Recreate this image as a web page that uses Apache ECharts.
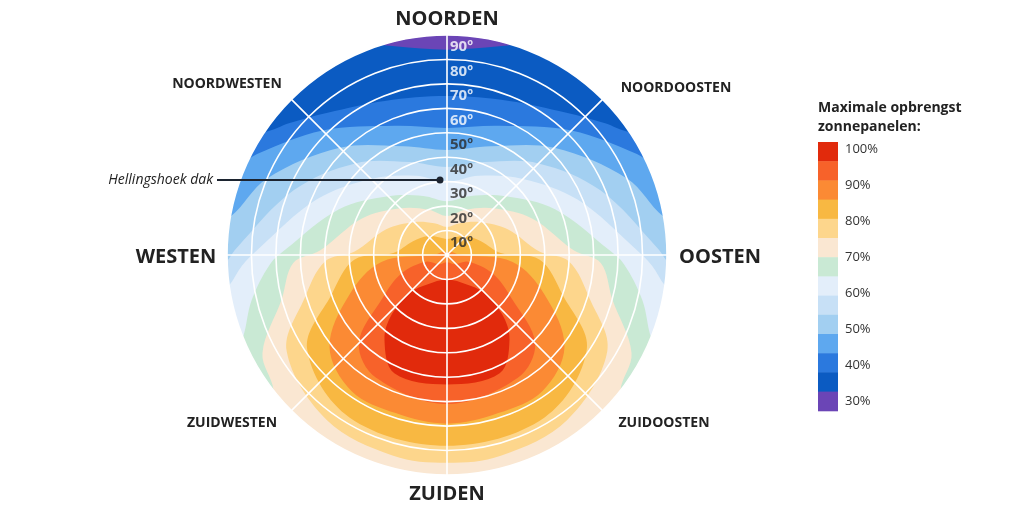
<!DOCTYPE html>
<html><head><meta charset="utf-8">
<script src="https://cdn.jsdelivr.net/npm/echarts@6/dist/echarts.min.js"></script>
<style>html,body{margin:0;padding:0;background:#fff}#c{width:1024px;height:512px}</style>
</head><body><div id="c"></div>
<script>
// Yield contour boundaries, east half: [tilt (deg), compass angle (deg, 0=N, 90=E, 180=S)]
const b35 = [[84,0],[88,14],[92,19],[105,24],[105,60],[105,90],[105,120],[105,150],[105,180]];
const b40 = [[65,0],[68,22],[76,40],[84,50],[90,56],[105,62],[105,90],[105,120],[105,150],[105,180]];
const b45 = [[52,0],[57,22],[72,45],[88,62],[92,66],[105,72],[105,100],[105,130],[105,155],[105,180]];
const b50 = [[43,0],[48,22],[62,45],[80,67],[90,80],[105,86],[105,115],[105,145],[105,180]];
const b55 = [[36,0],[41,22],[53,45],[68,67],[86,88],[92,93],[105,98],[105,125],[105,150],[105,180]];
const b60 = [[30,0],[35,22],[44,45],[58,67],[77,88],[84,93],[90,98],[105,105],[105,130],[105,155],[105,180]];
const b65 = [[22,0],[26,22],[34,45],[48,67],[66,88],[72.5,93],[82,103],[90,112],[105,120],[105,150],[105,180]];
const b70 = [[16,0],[20,22],[27,45],[38,67],[52,88],[63,93],[70,105],[85.5,118],[90,128],[105,137],[105,160],[105,180]];
const b75 = [[11.5,0],[14,22],[19,45],[27,67],[38,88],[50,93],[61,107],[76.5,121],[83.5,144],[85,165],[85,180]];
const b80 = [[6.5,0],[8,25],[11,45],[15,68],[22,88],[38,93],[50,109],[69,124],[77.5,149],[78,180]];
const b85 = [[1,0],[1.5,30],[2.5,60],[5,88],[27,96],[43,112],[61,128],[68,145],[68,162],[69,180]];
const b90 = [[3,180],[5,140],[9,108],[20,112],[32,124],[51,135],[58,150],[61,180]];
const b95 = [[10,180],[14.5,146],[21,136],[33,137],[43,143.5],[53,156],[53,180]];
const contours = [b35,b40,b45,b50,b55,b60,b65,b70,b75,b80,b85,b90,b95];

// Legend / band colours (100% ... 30%)
const bandColors = ['#e12a0c','#f7622a','#fb8a34','#f8b842','#fdd68c','#fae7d2','#c9e9d4',
                    '#e3eefa','#c7e0f6','#a2cff1','#5ea8ef','#2b79de','#0b5bc2','#6b45b6'];
const legendLabels = ['100%','90%','80%','70%','60%','50%','40%','30%'];
const tiltTicks = [10,20,30,40,50,60,70,80,90];
const directions = ['NOORDEN','NOORDOOSTEN','OOSTEN','ZUIDOOSTEN','ZUIDEN','ZUIDWESTEN','WESTEN','NOORDWESTEN'];

const levelColors = bandColors.slice(0,13).reverse(); // for b35..b95
const FONT = '"Open Sans", "Noto Sans", sans-serif';

function fullPoly(half){
  const mir = half.slice(1,-1).reverse().map(p=>[p[0], 360-p[1]]);
  return half.concat(mir);
}

const chart = echarts.init(document.getElementById('c'));
const items = [{kind:'bg'}].concat(contours.map((c,i)=>({kind:'lvl',i}))).concat([{kind:'mask'}]);

const option = {
  animation:false,
  backgroundColor:'#fff',
  polar:{center:[447,255], radius:220},
  angleAxis:{type:'value',min:0,max:360,interval:45,startAngle:90,clockwise:true,z:10,
    axisLine:{show:false},axisTick:{show:false},axisLabel:{show:false},
    splitLine:{show:true,lineStyle:{color:'#ffffff',width:1.6}}},
  radiusAxis:{type:'value',min:0,max:90,interval:10,z:10,
    axisLine:{show:false},axisTick:{show:false},axisLabel:{show:false},
    splitLine:{show:true,lineStyle:{color:'#ffffff',width:1.6}}},
  series:[
    {type:'custom', coordinateSystem:'polar', z:2, clip:false, silent:true,
     data: items.map((_,i)=>[0,0]),
     renderItem:function(params, api){
       const it = items[params.dataIndex];
       const c0 = api.coord([0,0]);
       const ce = api.coord([90,0]);
       const R = Math.hypot(ce[0]-c0[0], ce[1]-c0[1]);
       if(it.kind==='bg'){
         return {type:'circle', shape:{cx:c0[0],cy:c0[1],r:R}, style:{fill:bandColors[13]}};
       }
       if(it.kind==='mask'){
         return {type:'circle', shape:{cx:c0[0],cy:c0[1],r:R+45}, style:{fill:null,stroke:'#ffffff',lineWidth:90}};
       }
       const pts = fullPoly(contours[it.i]).map(p=>api.coord([p[0],p[1]]));
       return {type:'polygon', shape:{points:pts, smooth:0.35}, style:{fill:levelColors[it.i]}};
     }},
    {type:'scatter', coordinateSystem:'polar', z:20, symbolSize:0, silent:true,
     data: tiltTicks.map(t=>[t-5,0]),
     label:{show:true, position:'right', distance:3,
       fontFamily:FONT, fontWeight:'bold', fontSize:15,
       formatter:function(p){ return tiltTicks[p.dataIndex]+'º'; },
       color:'#2b2b2b',
       rich:{}},
     labelLayout:null}
  ],
  graphic:[]
};
// white labels for upper tilt rows
option.series[1].data = tiltTicks.map(t=>({value:[t-5,0], label:{color: t>=60 ? '#ffffff' : '#2b2b2b'}}));

const g = [];
const dirPos = [[447,19,20],[676,88,14],[720,257,20],[664,423,14],[447,494,20],[232,423,14],[176,257,20],[227,84,14]];
directions.forEach((d,i)=>{
  g.push({type:'text', x:dirPos[i][0], y:dirPos[i][1], z:30,
    style:{text:d, fill:'#222', font:'bold '+dirPos[i][2]+'px '+FONT, textAlign:'center', textVerticalAlign:'middle'}});
});
// annotation
g.push({type:'text', x:213, y:180, z:30, style:{text:'Hellingshoek dak', fill:'#222', font:'italic 14px '+FONT, textAlign:'right', textVerticalAlign:'middle'}});
g.push({type:'line', z:30, shape:{x1:217,y1:180,x2:440,y2:180}, style:{stroke:'#1c2430',lineWidth:2}});
g.push({type:'circle', z:31, shape:{cx:440,cy:180,r:3.5}, style:{fill:'#1c2430'}});
// legend
g.push({type:'text', x:818, y:108, z:30, style:{text:'Maximale opbrengst', fill:'#222', font:'bold 14px '+FONT, textVerticalAlign:'middle'}});
g.push({type:'text', x:818, y:127, z:30, style:{text:'zonnepanelen:', fill:'#222', font:'bold 14px '+FONT, textVerticalAlign:'middle'}});
const boxH = 19.2, top0 = 142;
bandColors.forEach((c,i)=>{
  g.push({type:'rect', z:30, shape:{x:818,y:top0+i*boxH,width:20,height:boxH+0.5}, style:{fill:c}});
});
legendLabels.forEach((l,i)=>{
  g.push({type:'text', x:845, y:149+i*36, z:30, style:{text:l, fill:'#333', font:'13px '+FONT, textVerticalAlign:'middle'}});
});
option.graphic = g;
chart.setOption(option);
</script></body></html>
